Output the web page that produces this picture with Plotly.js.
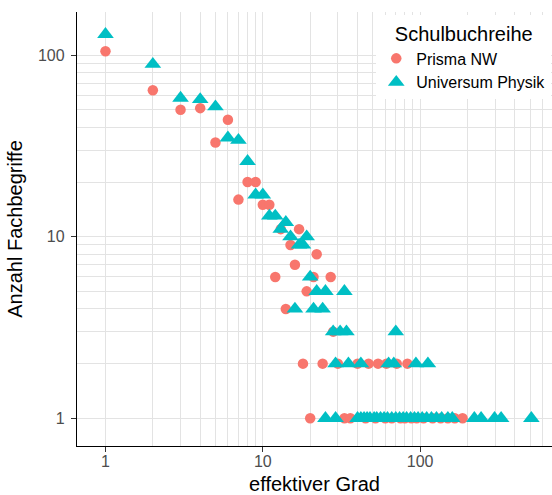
<!DOCTYPE html>
<html>
<head>
<meta charset="utf-8">
<script src="https://cdn.plot.ly/plotly-3.0.1.min.js"></script>
<style>html,body{margin:0;padding:0;background:#fff;}#chart{width:552px;height:495px;}</style>
</head>
<body>
<div id="chart"></div>
<script>
// Prisma NW
const prismaX = [1, 2, 3, 4, 5, 6, 7, 8, 9, 10, 11, 13, 17, 15, 22, 16, 12, 21, 27, 19, 14, 28,
  18, 24, 30, 40, 47, 54, 61, 71, 83,
  20, 33, 36, 45, 52, 60, 66, 75, 80, 88, 95, 105, 120, 135, 150, 166, 186];
const prismaY = [105, 64, 50, 51, 33, 44, 16, 20, 20, 15, 15, 11, 11, 9, 8, 7, 6, 6, 6, 5, 4, 3,
  2, 2, 2, 2, 2, 2, 2, 2, 2,
  1, 1, 1, 1, 1, 1, 1, 1, 1, 1, 1, 1, 1, 1, 1, 1, 1];
// Universum Physik
const univX = [1, 2, 3, 4, 5, 6, 7, 8, 9, 10, 11, 12, 14, 13, 15, 19, 17, 18, 20, 22, 25, 33, 16, 21, 24, 28, 31, 34, 70,
  29, 35, 42, 63, 68, 94, 112,
  25, 29, 40, 42, 44, 46, 48, 51, 53, 56, 59, 62, 66, 70, 74, 78, 82, 87, 92, 97, 103, 110, 118, 127, 137, 150, 160,
  221, 244, 297, 327, 509];
const univY = [130, 89, 58, 57, 52, 35, 34, 26, 17, 17, 13, 13, 12, 11, 10, 10, 9, 9, 6, 5, 5, 5, 4, 4, 4, 3, 3, 3, 3,
  2, 2, 2, 2, 2, 2, 2,
  1, 1, 1, 1, 1, 1, 1, 1, 1, 1, 1, 1, 1, 1, 1, 1, 1, 1, 1, 1, 1, 1, 1, 1, 1, 1, 1,
  1, 1, 1, 1, 1];

// grid positions and tick labels (labels only at decades)
const gridVals = [1, 2, 3, 4, 5, 6, 7, 8, 9, 10, 20, 30, 40, 50, 60, 70, 80, 90, 100, 200, 300, 400, 500, 600, 700, 800, 900];
const gridLabels = ['1', '', '', '', '', '', '', '', '', '10', '', '', '', '', '', '', '', '', '100', '', '', '', '', '', '', '', ''];
const majorTicks = [1, 10, 100];

const FONT = 'Liberation Sans, Arial, Helvetica, sans-serif';
const GRID = '#e3e3e3';

const traces = [
  {
    x: prismaX, y: prismaY, type: 'scatter', mode: 'markers', name: 'Prisma NW',
    marker: {symbol: 'circle', size: 10.5, color: '#F8766D', line: {width: 0}}
  },
  {
    x: univX, y: univY, type: 'scatter', mode: 'markers', name: 'Universum Physik',
    marker: {symbol: 'triangle-up', size: 14.5, color: '#00BFC4', line: {width: 0}}
  }
];

function axis(range, title) {
  return {
    type: 'log', range: range, autorange: false,
    tickmode: 'array', tickvals: gridVals, ticktext: gridLabels,
    ticks: '',
    tickfont: {family: FONT, size: 16, color: '#4d4d4d'},
    showline: true, linecolor: '#000', linewidth: 1.2, mirror: false,
    showgrid: true, gridcolor: GRID, gridwidth: 1, zeroline: false,
    minor: {tickmode: 'array', tickvals: majorTicks, showgrid: false, ticks: 'outside', ticklen: 5, tickwidth: 1, tickcolor: '#333'},
    title: {text: title, font: {family: FONT, size: 20, color: '#000'}}
  };
}

const xa = axis([-0.181, 2.838], 'effektiver Grad');
xa.title.standoff = 18;
xa.ticklabelstandoff = 1;
const ya = axis([-0.1525, 2.237], 'Anzahl Fachbegriffe');
ya.title.standoff = 9;
ya.ticklabelstandoff = 8;

const layout = {
  width: 552, height: 495,
  margin: {l: 77, r: 0, t: 12, b: 49, pad: 0},
  paper_bgcolor: '#fff', plot_bgcolor: '#fff',
  font: {family: FONT, color: '#000'},
  xaxis: xa, yaxis: ya,
  showlegend: true,
  legend: {
    x: 0.63, y: 0.992, xanchor: 'left', yanchor: 'top',
    bgcolor: '#fff', borderwidth: 0,
    title: {text: 'Schulbuchreihe', side: 'top center', font: {family: FONT, size: 20, color: '#000'}},
    font: {family: FONT, size: 16, color: '#000'},
    itemsizing: 'trace'
  }
};

Plotly.newPlot('chart', traces, layout, {displayModeBar: false, staticPlot: true});
</script>
</body>
</html>
